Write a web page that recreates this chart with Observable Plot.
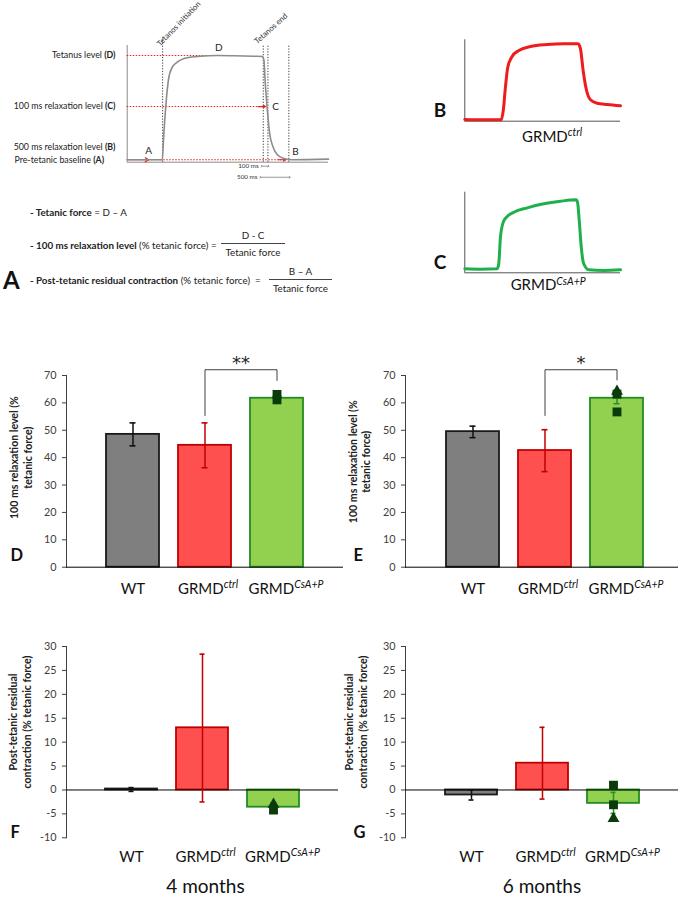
<!DOCTYPE html>
<html><head><meta charset="utf-8">
<script src="https://cdn.jsdelivr.net/npm/d3@7"></script>
<script src="https://cdn.jsdelivr.net/npm/@observablehq/plot@0.6"></script>
<style>
body{margin:0;background:#fff;}
#fig{position:relative;width:690px;height:898px;overflow:hidden;font-family:Lato,'Open Sans','DejaVu Sans',sans-serif;color:#111;}
.t{position:absolute;white-space:nowrap;font-size:9.8px;line-height:12px;color:#222;}
.frac{position:absolute;text-align:center;font-size:9.8px;line-height:12px;color:#222;}
.frac .den{border-top:1px solid #444;margin-top:2px;padding-top:2px;}
.big{position:absolute;font-weight:bold;font-size:24px;line-height:24px;color:#111;}
</style></head>
<body><div id="fig"></div>
<script>
// ---------------- DATA ----------------
const groups = ["WT", "GRMD^ctrl", "GRMD^CsA+P"];
const barFills = ["#7f7f7f", "#ff5050", "#92d050"];
const barStrokes = ["#1a1a1a", "#c00000", "#238b23"];
const errColors = ["#111111", "#c00000", "#2e8b2e"];

// D: 100 ms relaxation level, 4 months
const relax4Mean = [48.5, 44.5, 61.7];
const relax4Low = [44.3, 36.3, 60.0];
const relax4High = [52.7, 52.7, 63.5];
const relax4PtValues = [63.1, 61.1];
const relax4PtShapes = ["square", "square"];

// E: 100 ms relaxation level, 6 months
const relax6Mean = [49.5, 42.6, 61.7];
const relax6Low = [47.3, 34.9, 59.7];
const relax6High = [51.5, 50.2, 64.0];
const relax6PtValues = [64.2, 63.2, 56.7];
const relax6PtShapes = ["triangle", "square", "square"];

// F: post-tetanic residual contraction, 4 months
const resid4Mean = [0.2, 13.0, -3.6];
const resid4Low = [-0.3, -2.5, -4.5];
const resid4High = [0.5, 28.4, -2.8];
const resid4PtValues = [-3.0, -4.2];
const resid4PtShapes = ["triangle", "square"];

// G: post-tetanic residual contraction, 6 months
const resid6Mean = [-1.05, 5.6, -2.8];
const resid6Low = [-2.1, -1.9, -4.9];
const resid6High = [0.0, 13.1, -0.5];
const resid6PtValues = [1.0, -3.1, -6.0];
const resid6PtShapes = ["square", "square", "triangle"];

const relaxTicks = [0, 10, 20, 30, 40, 50, 60, 70];
const residTicks = [-10, -5, 0, 5, 10, 15, 20, 25, 30];

// A: schematic force trace (arbitrary time / force units)
const modelTime  = [0, 17.4, 18.2, 19.4, 20.7, 22.4, 24.8, 29.8, 36.4, 44.7, 53, 62.9, 67.1, 67.9, 68.6, 69.5, 70.8, 72.5, 74.5, 77.8, 82, 100];
const modelForce = [2.1, 2.1, 24.3, 52.9, 72.8, 81.4, 85.7, 89.5, 90.8, 91.4, 91.2, 90.8, 90.6, 87.7, 67.2, 47.1, 24.3, 12.9, 6.6, 3.2, 2.1, 2.6];
const markerTimes = [17.6, 67.6, 69.9, 80.3];
const markerTops = [107, 100, 100, 100];
const levelForce = [91.4, 47.7, 12.9, 2.1];
const levelLabels = ["Tetanus level |(D)|", "100 ms relaxation level |(C)|", "500 ms relaxation level |(B)|", "Pre-tetanic baseline |(A)|"];
const levelLineEnd = [44.7, 65, null, 75];
const pointLetters = ["A", "D", "C", "B"];
const pointLetterTime = [10.7, 45.5, 73.7, 83.6];
const pointLetterForce = [10, 97.7, 47.7, 8.6];
const eventLabels = ["Tetanos initiation", "Tetanos end"];
const eventTime = [16.4, 64.6];
const eventForce = [99, 101];
const eventAngle = [-46, -42];
const spanLabels = ["100 ms", "500 ms"];
const spanStart = [66.8, 66.2];
const spanEnd = [70.2, 80.8];
const spanForce = [-3.4, -12.9];

// B: GRMD ctrl trace
const ctrlTime  = [0, 10.1, 23.4, 24.7, 26.1, 27.6, 30.4, 34.7, 42.2, 52.9, 63.6, 72.8, 74.3, 76, 78.2, 80.7, 85, 91.5, 100];
const ctrlForce = [2.1, 1.7, 1.7, 13.1, 41.8, 66.3, 79.5, 86.9, 91.8, 94.2, 95.1, 95.1, 88.9, 62.3, 37.7, 26.3, 22.1, 20.5, 18.9];
// C: GRMD CsA+P trace
const csaTime  = [0, 10.1, 20.8, 21.8, 22.9, 24.7, 26.8, 31.5, 40.1, 50.7, 61.5, 71.5, 72.4, 73.5, 74.8, 76.4, 79.6, 89.3, 100];
const csaForce = [5.0, 4.5, 5.0, 11.2, 44.2, 62.8, 69, 75.2, 80.6, 85.6, 88.8, 90.6, 87.6, 64.9, 31.8, 11.2, 3.7, 2.9, 3.7];

// ---------------- HELPERS ----------------
const FONT = "Lato, 'Open Sans', 'DejaVu Sans', sans-serif";
const fig = document.getElementById("fig");

function richText(svg) {
  d3.select(svg).selectAll("text").each(function () {
    if (this.querySelector("tspan")) return;
    const t = this.textContent;
    const el = d3.select(this);
    if (t.includes("^")) {
      const [a, b] = t.split("^");
      el.text(a);
      el.append("tspan").attr("font-size", "0.7em").attr("font-style", "italic").attr("dy", "-0.55em").text(b);
    } else if (t.includes("|")) {
      const parts = t.split("|");
      el.text("");
      parts.forEach((p, i) => { if (p) el.append("tspan").attr("font-weight", i % 2 ? "bold" : null).text(p); });
    }
  });
}
function place(svg, left, top, w, h) {
  const d = document.createElement("div");
  d.style.cssText = `position:absolute;left:${left}px;top:${top}px;width:${w}px;height:${h}px;`;
  d.appendChild(svg);
  fig.appendChild(d);
  richText(svg);
}
const baseStyle = (size) => ({fontFamily: FONT, fontSize: size, background: "transparent", overflow: "visible", color: "#404040"});

// ---------------- PANEL A (schematic) ----------------
{
  const trace = modelTime.map((t, i) => ({t, f: modelForce[i]}));
  const markers = markerTimes.map((t, i) => ({t, top: markerTops[i]}));
  const dotted = [
    {f: levelForce[0], x1: 0, x2: levelLineEnd[0]},
    {f: levelForce[1], x1: 0, x2: levelLineEnd[1] + 3.5},
    {f: levelForce[3], x1: 10.7, x2: levelLineEnd[3] + 3.5}
  ];
  const heads = [
    {x1: levelLineEnd[1], x2: levelLineEnd[1] + 3.7, f: levelForce[1]},
    {x1: levelLineEnd[3], x2: levelLineEnd[3] + 3.8, f: levelForce[3]},
    {x1: 0, x2: 10.7, f: levelForce[3]}
  ];
  const labs = levelLabels.map((s, i) => ({s, f: levelForce[i]}));
  const letters = pointLetters.map((s, i) => ({s, t: pointLetterTime[i], f: pointLetterForce[i]}));
  const events = eventLabels.map((s, i) => ({s, t: eventTime[i], f: eventForce[i], a: eventAngle[i]}));
  const spans = spanLabels.map((s, i) => ({s, x1: spanStart[i], x2: spanEnd[i], f: spanForce[i]}));
  const red = "#e0241c";
  const svg = Plot.plot({
    width: 340, height: 190,
    marginLeft: 126.7, marginRight: 12, marginTop: 45, marginBottom: 28.3,
    x: {domain: [0, 100], axis: null},
    y: {domain: [0, 100], axis: null},
    style: baseStyle("9px"),
    marks: [
      Plot.ruleX([0], {y1: 0, y2: 100, stroke: "#8c8c8c", strokeWidth: 1}),
      Plot.ruleY([0], {x1: 0, x2: 100, stroke: "#8c8c8c", strokeWidth: 1}),
      Plot.ruleX(markers, {x: "t", y1: 0, y2: "top", stroke: "#222", strokeWidth: 0.9, strokeDasharray: "1.2,1.6"}),
      Plot.ruleY(dotted, {y: "f", x1: "x1", x2: "x2", stroke: red, strokeWidth: 1, strokeDasharray: "1.5,1.5"}),
      Plot.arrow(heads, {x1: "x1", x2: "x2", y1: "f", y2: "f", stroke: red, strokeWidth: 1.2, headLength: 5}),
      Plot.line(trace, {x: "t", y: "f", stroke: "#8c8c8c", strokeWidth: 1.6, curve: "monotone-x"}),
      Plot.text(labs.slice(0, 3), {y: "f", text: "s", frameAnchor: "left", dx: -11.7, textAnchor: "end", fill: "#222", fontSize: 8.8}),
      Plot.text(labs.slice(3), {y: "f", text: "s", frameAnchor: "left", dx: -112.7, textAnchor: "start", fill: "#222", fontSize: 8.8}),
      Plot.text(letters, {x: "t", y: "f", text: "s", fill: "#222", fontSize: 10}),
      Plot.text(events, {x: "t", y: "f", text: "s", rotate: "a", textAnchor: "start", lineAnchor: "bottom", fill: "#333", fontSize: 7.8}),
      Plot.link(spans, {x1: "x1", x2: "x2", y1: "f", y2: "f", stroke: "#333", strokeWidth: 0.5, markerStart: "arrow", markerEnd: "arrow"}),
      Plot.text(spans, {x: "x1", y: "f", text: "s", textAnchor: "end", dx: -3, fill: "#333", fontSize: 6.3})
    ]
  });
  place(svg, 0, 0, 340, 190);
}

// formulas (HTML text)
fig.insertAdjacentHTML("beforeend", `
  <div class="t" style="left:30px;top:206px"><b>- Tetanic force</b> = D – A</div>
  <div class="t" style="left:30px;top:239px"><b>- 100 ms relaxation level</b> (% tetanic force) =</div>
  <div class="frac" style="left:221px;top:229px;width:64px"><div>D - C</div><div class="den">Tetanic force</div></div>
  <div class="t" style="left:30px;top:274px"><b>- Post-tetanic residual contraction</b> (% tetanic force)&nbsp;&nbsp;=</div>
  <div class="frac" style="left:269px;top:265px;width:63px"><div>B – A</div><div class="den">Tetanic force</div></div>
  <div class="big" style="left:3px;top:268px">A</div>
`);

// ---------------- PANELS B & C (traces) ----------------
function tracePanel({time, force, color, letter, label, top, marginTop, marginBottom, labelDx, labelDy}) {
  const data = time.map((t, i) => ({t, f: force[i]}));
  const svg = Plot.plot({
    width: 260, height: 130,
    marginLeft: 34.3, marginRight: 70, marginTop, marginBottom,
    x: {domain: [0, 100], axis: null},
    y: {domain: [0, 100], axis: null},
    style: baseStyle("15px"),
    marks: [
      Plot.ruleX([0], {y1: 0, y2: 100, stroke: "#555", strokeWidth: 1}),
      Plot.ruleY([0], {x1: 0, x2: 100, stroke: "#555", strokeWidth: 1}),
      Plot.line(data, {x: "t", y: "f", stroke: color, strokeWidth: 3, curve: "monotone-x"}),
      Plot.text([letter], {frameAnchor: "bottom-left", dx: -31, dy: -4, textAnchor: "start", lineAnchor: "bottom", fontWeight: "bold", fontSize: 19, fill: "#111"}),
      Plot.text([label], {frameAnchor: "bottom", dx: labelDx, dy: labelDy, textAnchor: "middle", lineAnchor: "middle", fontSize: 15, fill: "#111"})
    ]
  });
  place(svg, 430, top, 260, 130);
}
tracePanel({time: ctrlTime, force: ctrlForce, color: "#ee1c1c", letter: "B", label: groups[1], top: 20, marginTop: 19.3, marginBottom: 29.3, labelDx: 9.5, labelDy: 16});
tracePanel({time: csaTime, force: csaForce, color: "#20b04b", letter: "C", label: groups[2], top: 170, marginTop: 21.7, marginBottom: 27.7, labelDx: 5.5, labelDy: 12.7});

// ---------------- PANELS D–G (bars) ----------------
const labelShift = [0, 3, 9];
function barPanel(c) {
  const rows = groups.map((g, i) => ({group: g, mean: c.means[i], low: c.lows[i], high: c.highs[i], fill: barFills[i], stroke: barStrokes[i], err: errColors[i]}));
  const pts = c.ptValues.map((v, i) => ({group: groups[2], v, shape: c.ptShapes[i]}));
  const marks = [
    Plot.barY(rows, {x: "group", y: "mean", fill: "fill", stroke: "stroke", strokeWidth: 1.8}),
    Plot.ruleY([0], {stroke: "#000", strokeWidth: 1}),
    Plot.ruleX(rows, {x: "group", y1: "low", y2: "high", stroke: "err", strokeWidth: 1.5}),
    Plot.tickY(rows, {x: "group", y: "low", stroke: "err", strokeWidth: 1.6, insetLeft: 23.5, insetRight: 23.5}),
    Plot.tickY(rows, {x: "group", y: "high", stroke: "err", strokeWidth: 1.6, insetLeft: 23.5, insetRight: 23.5}),
    Plot.dot(pts.filter(p => p.shape === "triangle"), {x: "group", y: "v", symbol: "triangle", r: 4.4, fill: "#0b3a0b"}),
    Plot.dot(pts.filter(p => p.shape === "square"), {x: "group", y: "v", symbol: "square", r: 5, fill: "#0b3a0b"}),
    ...groups.map((g, i) => Plot.text([g], {x: d => d, text: d => d, frameAnchor: "bottom", dx: labelShift[i], dy: c.labelDy, textAnchor: "middle", lineAnchor: "middle", fontSize: 15, fill: "#111"})),
    Plot.text([c.title], {frameAnchor: "left", y: () => c.titleY, dx: c.titleDx, rotate: -90, textAnchor: "middle", lineAnchor: "middle", fontWeight: "bold", fontSize: 10.6, lineHeight: 1.27, fill: "#222"}),
    Plot.text([c.letter], {frameAnchor: "bottom-left", dx: c.letterDx, dy: c.letterDy, textAnchor: "start", lineAnchor: "bottom", fontWeight: "bold", fontSize: 16.5, fill: "#111"})
  ];
  if (c.sig) {
    const br = [
      {group: groups[1], v: c.sig.left}, {group: groups[1], v: c.sig.top},
      {group: groups[2], v: c.sig.top}, {group: groups[2], v: c.sig.right}
    ];
    marks.push(Plot.line(br, {x: "group", y: "v", stroke: "#404040", strokeWidth: 1}));
    marks.push(Plot.text([c.sig.stars], {x: () => groups[1], y: () => c.sig.starY, dx: 36, fontSize: 18, fontFamily: "'DejaVu Sans', sans-serif", fill: "#222", lineAnchor: "middle"}));
  }
  if (c.months) {
    marks.push(Plot.text([c.months], {frameAnchor: "bottom", dx: c.monthsDx, dy: 49.4, textAnchor: "middle", lineAnchor: "middle", fontSize: 19, fill: "#111"}));
  }
  const svg = Plot.plot({
    width: c.width, height: c.height,
    marginLeft: c.marginLeft, marginRight: c.marginRight, marginTop: c.marginTop, marginBottom: c.marginBottom,
    x: {domain: groups, range: c.xRange, paddingInner: 0.27, paddingOuter: 0.135, axis: null},
    y: {domain: c.yDomain, ticks: c.yTicks, tickSize: 4, tickPadding: 6, tickFormat: d => String(d), label: null, line: true},
    style: baseStyle("10.8px"),
    marks
  });
  place(svg, c.left, c.top, c.width, c.height);
}

const relaxTitle = "100 ms relaxation level (%\ntetanic force)";
const residTitle = "Post-tetanic residual\ncontraction (% tetanic force)";

barPanel({left: 0, top: 330, width: 345, height: 280, marginLeft: 66, marginRight: 2, marginTop: 45, marginBottom: 43.3,
  xRange: [95.7, 313.6], yDomain: [0, 70], yTicks: relaxTicks,
  means: relax4Mean, lows: relax4Low, highs: relax4High, ptValues: relax4PtValues, ptShapes: relax4PtShapes,
  labelDy: 21.5, title: relaxTitle, titleY: 40, titleDx: -46, letter: "D", letterDx: -56, letterDy: -6.7,
  sig: {left: 55.4, top: 72.1, right: 68.2, stars: "**", starY: 74.3}});

barPanel({left: 345, top: 330, width: 345, height: 280, marginLeft: 60, marginRight: 12, marginTop: 45, marginBottom: 43.3,
  xRange: [90, 308], yDomain: [0, 70], yTicks: relaxTicks,
  means: relax6Mean, lows: relax6Low, highs: relax6High, ptValues: relax6PtValues, ptShapes: relax6PtShapes,
  labelDy: 21.5, title: relaxTitle, titleY: 38.5, titleDx: -46.5, letter: "E", letterDx: -52, letterDy: -6.7,
  sig: {left: 55.4, top: 72.1, right: 68.4, stars: "*", starY: 74.3}});

barPanel({left: 0, top: 600, width: 345, height: 298, marginLeft: 66, marginRight: 7, marginTop: 46, marginBottom: 60.7,
  xRange: [94.6, 310.1], yDomain: [-10, 30], yTicks: residTicks,
  means: resid4Mean, lows: resid4Low, highs: resid4High, ptValues: resid4PtValues, ptShapes: resid4PtShapes,
  labelDy: 19.4, title: residTitle, titleY: 14.2, titleDx: -47, letter: "F", letterDx: -56, letterDy: 0,
  months: "4 months", monthsDx: 3});

barPanel({left: 345, top: 600, width: 345, height: 298, marginLeft: 60, marginRight: 12, marginTop: 46, marginBottom: 60.7,
  xRange: [89.5, 304.5], yDomain: [-10, 30], yTicks: residTicks,
  means: resid6Mean, lows: resid6Low, highs: resid6High, ptValues: resid6PtValues, ptShapes: resid6PtShapes,
  labelDy: 19.4, title: residTitle, titleY: 14.2, titleDx: -50, letter: "G", letterDx: -52, letterDy: 0,
  months: "6 months", monthsDx: 0});
</script>
</body></html>
